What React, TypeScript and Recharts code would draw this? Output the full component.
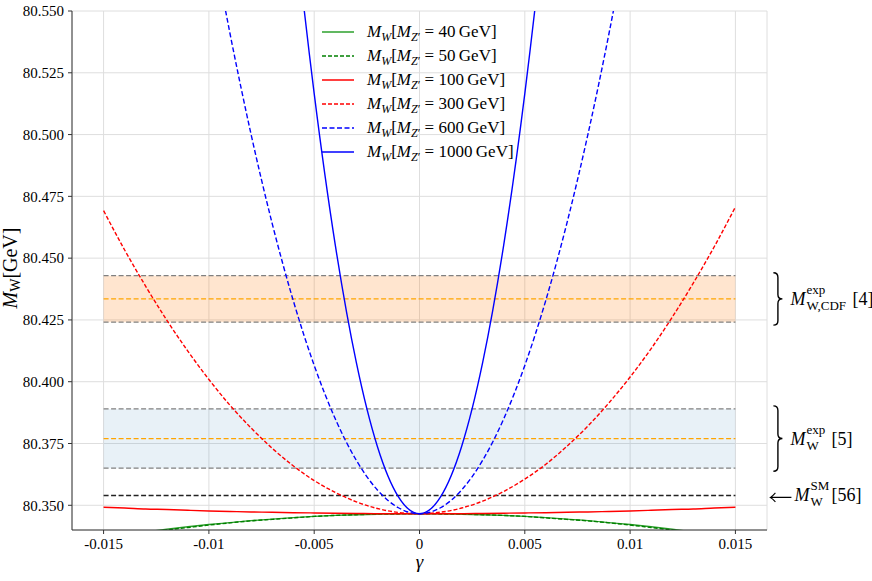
import React from 'react';
import { LineChart, Line, XAxis, YAxis, CartesianGrid, ReferenceArea, ReferenceLine } from 'recharts';

// gamma grid (x axis)
const gamma = [
  -0.015, -0.014, -0.013, -0.012, -0.011, -0.01, -0.009, -0.008, -0.007, -0.006, -0.005, -0.004, -0.003, -0.002, -0.001,
  0,
  0.001, 0.002, 0.003, 0.004, 0.005, 0.006, 0.007, 0.008, 0.009, 0.01, 0.011, 0.012, 0.013, 0.014, 0.015,
];

// M_W [GeV], one array per Z' mass
const mw40 = [
  80.3367, 80.338, 80.3392, 80.3403, 80.3413, 80.3422, 80.343, 80.3438, 80.3444, 80.345, 80.3455, 80.3459, 80.3462, 80.3464, 80.3466,
  80.3466,
  80.3466, 80.3464, 80.3462, 80.3459, 80.3455, 80.345, 80.3444, 80.3438, 80.343, 80.3422, 80.3413, 80.3403, 80.3392, 80.338, 80.3367,
];
const mw50 = [
  80.3362, 80.3376, 80.3388, 80.34, 80.341, 80.342, 80.3429, 80.3437, 80.3443, 80.3449, 80.3455, 80.3459, 80.3462, 80.3464, 80.3465,
  80.3466,
  80.3465, 80.3464, 80.3462, 80.3459, 80.3455, 80.3449, 80.3443, 80.3437, 80.3429, 80.342, 80.341, 80.34, 80.3388, 80.3376, 80.3362,
];
const mw100 = [
  80.3492, 80.3489, 80.3485, 80.3483, 80.348, 80.3477, 80.3475, 80.3473, 80.3472, 80.347, 80.3469, 80.3468, 80.3467, 80.3466, 80.3466,
  80.3466,
  80.3466, 80.3466, 80.3467, 80.3468, 80.3469, 80.347, 80.3472, 80.3473, 80.3475, 80.3477, 80.348, 80.3483, 80.3485, 80.3489, 80.3492,
];
const mw300 = [
  80.4692, 80.4533, 80.4386, 80.4249, 80.4124, 80.4009, 80.3905, 80.3813, 80.3731, 80.366, 80.36, 80.3552, 80.3514, 80.3487, 80.3471,
  80.3466,
  80.3472, 80.3489, 80.3517, 80.3556, 80.3606, 80.3666, 80.3739, 80.3821, 80.3915, 80.4019, 80.4134, 80.4261, 80.4399, 80.4547, 80.4707,
];
const mw600 = [
  null, null, null, null, 80.637, 80.5866, 80.541, 80.5002, 80.4642, 80.433, 80.4066, 80.385, 80.3682, 80.3562, 80.349,
  80.3466,
  80.349, 80.3562, 80.3682, 80.385, 80.4066, 80.433, 80.4642, 80.5002, 80.541, 80.5866, 80.637, null, null, null, null,
];
const mw1000 = [
  null, null, null, null, null, null, null, null, 80.6798, 80.5914, 80.5166, 80.4554, 80.4078, 80.3738, 80.3534,
  80.3466,
  80.3534, 80.3738, 80.4078, 80.4554, 80.5166, 80.5914, 80.6798, null, null, null, null, null, null, null, null,
];

const masses = ['40', '50', '100', '300', '600', '1000'];

// measured bands: [low, central, high]
const cdfBand = [80.4241, 80.4335, 80.4429];
const pdgBand = [80.365, 80.377, 80.389];
const smValue = 80.354;
const bandSpan = [-0.015, 0.015];

const xTicks = [-0.015, -0.01, -0.005, 0, 0.005, 0.01, 0.015];
const yTicks = [80.35, 80.375, 80.4, 80.425, 80.45, 80.475, 80.5, 80.525, 80.55];

const table = gamma.map((g, i) => ({
  g,
  m40: mw40[i],
  m50: mw50[i],
  m100: mw100[i],
  m300: mw300[i],
  m600: mw600[i],
  m1000: mw1000[i],
}));

const series = [
  { key: 'm40', color: '#2ca02c', dash: undefined },
  { key: 'm50', color: '#008000', dash: '4 2' },
  { key: 'm100', color: '#ff0000', dash: undefined },
  { key: 'm300', color: '#ff0000', dash: '4 2' },
  { key: 'm600', color: '#0000ff', dash: '5 2.5' },
  { key: 'm1000', color: '#0000ff', dash: undefined },
];

const FONT = 'Liberation Serif';

function Brace({ x, y1, y2, w = 9 }: { x: number; y1: number; y2: number; w?: number }) {
  const ym = (y1 + y2) / 2;
  const h = w / 2;
  const d = `M${x},${y1} Q${x + h},${y1} ${x + h},${y1 + h} L${x + h},${ym - h} Q${x + h},${ym} ${x + w},${ym} Q${x + h},${ym} ${x + h},${ym + h} L${x + h},${y2 - h} Q${x + h},${y2} ${x},${y2}`;
  return <path d={d} fill="none" stroke="#000" strokeWidth={1.4} />;
}

// M with super/subscripts, drawn as separate text pieces
function MathM({ x, mid, sup, sub, tail, tailGap }: any) {
  const scriptX = x + 16;
  return (
    <g style={{ fontFamily: FONT }} fill="#000">
      <text x={x} y={mid + 6} fontSize={18} fontStyle="italic">M</text>
      <text x={scriptX} y={mid - 5} fontSize={13}>{sup}</text>
      <text x={scriptX} y={mid + 11} fontSize={13}>{sub}</text>
      <text x={scriptX + tailGap} y={mid + 6} fontSize={18}>{tail}</text>
    </g>
  );
}

function BandNote({ viewBox, sup, sub, tail, tailGap }: any) {
  if (!viewBox) return null;
  const right = viewBox.x + viewBox.width;
  const top = viewBox.y;
  const bottom = viewBox.y + viewBox.height;
  const mid = (top + bottom) / 2;
  return (
    <g>
      <Brace x={right + 38} y1={top - 3} y2={bottom + 3} />
      <MathM x={right + 55} mid={mid} sup={sup} sub={sub} tail={tail} tailGap={tailGap} />
    </g>
  );
}

function SmNote({ viewBox }: any) {
  if (!viewBox) return null;
  const right = viewBox.x + viewBox.width;
  const mid = viewBox.y;
  const ax = right + 35;
  const ay = mid + 2;
  return (
    <g>
      <path
        d={`M${ax + 21},${ay} L${ax},${ay} M${ax + 5},${ay - 4.5} Q${ax + 2},${ay - 1} ${ax},${ay} Q${ax + 2},${ay + 1} ${ax + 5},${ay + 4.5}`}
        fill="none"
        stroke="#000"
        strokeWidth={1.1}
      />
      <MathM x={right + 59} mid={mid} sup="SM" sub="W" tail="[56]" tailGap={21} />
    </g>
  );
}

function XLabel({ viewBox }: any) {
  if (!viewBox) return null;
  return (
    <text x={viewBox.x + viewBox.width / 2} y={viewBox.y + 38} textAnchor="middle" fontSize={19} fontStyle="italic" style={{ fontFamily: FONT }}>
      γ
    </text>
  );
}

function YLabel() {
  const cx = 17;
  const cy = 268;
  return (
    <text x={cx} y={cy} transform={`rotate(-90, ${cx}, ${cy})`} textAnchor="middle" fontSize={20} style={{ fontFamily: FONT }}>
      <tspan fontStyle="italic">M</tspan>
      <tspan fontSize={14} dy={3}>W</tspan>
      <tspan dy={-3}>[GeV]</tspan>
    </text>
  );
}

function LegendBox() {
  return (
    <div style={{ position: 'absolute', left: 318, top: 20, fontFamily: FONT, fontSize: 17, color: '#000' }}>
      {series.map((s, i) => (
        <div key={s.key} style={{ height: 24, display: 'flex', alignItems: 'center' }}>
          <svg width={49} height={10} style={{ flex: 'none' }}>
            <line x1={4} y1={5} x2={36} y2={5} stroke={s.color} strokeWidth={1.5} strokeDasharray={s.dash} />
          </svg>
          <span style={{ whiteSpace: 'nowrap', lineHeight: '16px' }}>
            <i>M</i>
            <span style={{ fontSize: 12, position: 'relative', top: 4 }}><i>W</i></span>
            [<i>M</i>
            <span style={{ fontSize: 12, position: 'relative', top: 4 }}><i>Z</i>′</span>
            {' = '}{masses[i]}{'\u2009'}GeV]
          </span>
        </div>
      ))}
    </div>
  );
}

export default function App() {
  const tick = { fontSize: 15, fill: '#000', fontFamily: FONT };
  return (
    <div style={{ position: 'absolute', left: 0, top: 0, width: 872, height: 581, background: '#fff', fontFamily: FONT }}>
      <LineChart width={872} height={581} data={table} margin={{ top: 11, right: 105, bottom: 21, left: 8 }} style={{ fontFamily: FONT }}>
        <CartesianGrid stroke="#dedede" strokeWidth={1} />
        <XAxis
          dataKey="g"
          type="number"
          domain={[-0.0165, 0.0165]}
          ticks={xTicks}
          tickFormatter={(v) => (v === 0 ? '0' : String(v))}
          tick={tick}
          tickSize={4}
          tickMargin={4}
          height={30}
          stroke="#333"
          allowDataOverflow
          label={<XLabel />}
        />
        <XAxis xAxisId="top" orientation="top" type="number" domain={[-0.0165, 0.0165]} height={0} tick={false} tickLine={false} stroke="#333" />
        <YAxis
          type="number"
          domain={[80.34, 80.55]}
          ticks={yTicks}
          tickFormatter={(v) => v.toFixed(3)}
          tick={tick}
          tickSize={4}
          tickMargin={4}
          width={64}
          stroke="#333"
          allowDataOverflow
        />
        <YAxis yAxisId="right" orientation="right" type="number" domain={[80.34, 80.55]} width={0} tick={false} tickLine={false} stroke="#333" />

        <ReferenceArea
          x1={bandSpan[0]}
          x2={bandSpan[1]}
          y1={cdfBand[0]}
          y2={cdfBand[2]}
          fill="#ff7f0e"
          fillOpacity={0.2}
          stroke="none"
          label={<BandNote sup="exp" sub="W,CDF" tail="[4]" tailGap={46} />}
        />
        <ReferenceArea
          x1={bandSpan[0]}
          x2={bandSpan[1]}
          y1={pdgBand[0]}
          y2={pdgBand[2]}
          fill="#1f77b4"
          fillOpacity={0.1}
          stroke="none"
          label={<BandNote sup="exp" sub="W" tail="[5]" tailGap={25} />}
        />
        {[cdfBand, pdgBand].map((b, bi) =>
          b.map((v, i) => (
            <ReferenceLine
              key={`b${bi}-${i}`}
              segment={[{ x: bandSpan[0], y: v }, { x: bandSpan[1], y: v }]}
              stroke={i === 1 ? '#ffa500' : '#808080'}
              strokeWidth={1.3}
              strokeDasharray="5 2.5"
            />
          )),
        )}
        <ReferenceLine
          segment={[{ x: bandSpan[0], y: smValue }, { x: bandSpan[1], y: smValue }]}
          stroke="#222"
          strokeWidth={1.5}
          strokeDasharray="5 2.5"
          label={<SmNote />}
        />

        {series.map((s) => (
          <Line
            key={s.key}
            dataKey={s.key}
            type="monotone"
            stroke={s.color}
            strokeWidth={1.4}
            strokeDasharray={s.dash}
            dot={false}
            activeDot={false}
            isAnimationActive={false}
          />
        ))}
        <YLabel />
      </LineChart>
      <LegendBox />
    </div>
  );
}
